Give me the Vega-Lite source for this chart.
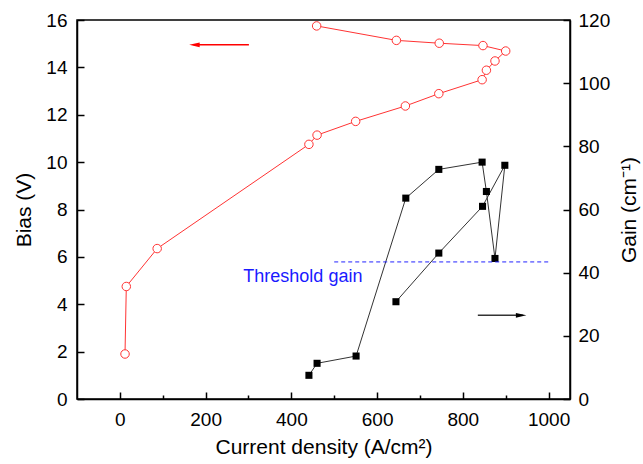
{
  "$schema": "https://vega.github.io/schema/vega-lite/v6.json",
  "width": 493,
  "height": 379,
  "autosize": {"type": "none"},
  "padding": {"left": 77, "top": 20, "right": 73, "bottom": 65},
  "background": "white",
  "config": {
    "view": {"stroke": "black", "strokeWidth": 1.5},
    "font": "Liberation Sans",
    "axis": {
      "domainColor": "black", "domainWidth": 1.5, "tickColor": "black", "tickWidth": 1.5,
      "labelFont": "Liberation Sans", "labelFontSize": 19, "labelColor": "black",
      "titleFont": "Liberation Sans", "titleFontSize": 21, "titleFontWeight": "normal", "titleColor": "black",
      "grid": false, "labelFlush": false, "labelOverlap": false
    }
  },
  "datasets": {
    "bias": [
      {"idx": 1, "J": 12, "V": 1.9},
      {"idx": 2, "J": 15, "V": 4.75},
      {"idx": 3, "J": 87, "V": 6.35},
      {"idx": 4, "J": 441, "V": 10.75},
      {"idx": 5, "J": 460, "V": 11.14},
      {"idx": 6, "J": 550, "V": 11.72},
      {"idx": 7, "J": 666, "V": 12.37},
      {"idx": 8, "J": 744, "V": 12.89},
      {"idx": 9, "J": 845, "V": 13.48},
      {"idx": 10, "J": 855, "V": 13.88},
      {"idx": 11, "J": 875, "V": 14.27},
      {"idx": 12, "J": 900, "V": 14.69},
      {"idx": 13, "J": 847, "V": 14.92},
      {"idx": 14, "J": 745, "V": 15.02},
      {"idx": 15, "J": 645, "V": 15.14},
      {"idx": 16, "J": 459, "V": 15.75}
    ],
    "gain": [
      {"idx": 1, "J": 441, "G": 7.5},
      {"idx": 2, "J": 460, "G": 11.3},
      {"idx": 3, "J": 551, "G": 13.6},
      {"idx": 4, "J": 667, "G": 63.6},
      {"idx": 5, "J": 744, "G": 72.7},
      {"idx": 6, "J": 845, "G": 75.0},
      {"idx": 7, "J": 855, "G": 65.7},
      {"idx": 8, "J": 875, "G": 44.5},
      {"idx": 9, "J": 898, "G": 74.0},
      {"idx": 10, "J": 846, "G": 61.0},
      {"idx": 11, "J": 744, "G": 46.2},
      {"idx": 12, "J": 644, "G": 30.8}
    ],
    "one": [{}]
  },
  "layer": [
    {
      "layer": [
        {
          "data": {"name": "bias"},
          "mark": {"type": "line", "color": "#ff3333", "strokeWidth": 1},
          "encoding": {
            "x": {
              "field": "J", "type": "quantitative",
              "scale": {"domain": [-100, 1050], "nice": false, "zero": false},
              "axis": {
                "title": "Current density (A/cm²)",
                "values": [0, 100, 200, 300, 400, 500, 600, 700, 800, 900, 1000],
                "format": "d",
                "labelExpr": "datum.value % 200 === 0 ? datum.label : ''",
                "tickSize": {"condition": {"test": "datum.value % 200 === 0", "value": -7}, "value": -4},
                "labelPadding": 18,
                "titlePadding": 4
              }
            },
            "y": {
              "field": "V", "type": "quantitative",
              "scale": {"domain": [0, 16], "nice": false},
              "axis": {
                "title": "Bias (V)",
                "orient": "left",
                "values": [0, 1, 2, 3, 4, 5, 6, 7, 8, 9, 10, 11, 12, 13, 14, 15, 16],
                "labelExpr": "datum.value % 2 === 0 ? datum.label : ''",
                "tickSize": {"condition": {"test": "datum.value % 2 === 0", "value": -7}, "value": -4},
                "labelPadding": 17,
                "titlePadding": 11
              }
            },
            "order": {"field": "idx", "type": "quantitative"}
          }
        },
        {
          "data": {"name": "bias"},
          "mark": {"type": "point", "shape": "circle", "filled": false, "fill": "white", "fillOpacity": 1, "stroke": "#ff3333", "size": 72, "strokeWidth": 1, "opacity": 1},
          "encoding": {
            "x": {"field": "J", "type": "quantitative"},
            "y": {"field": "V", "type": "quantitative", "title": "Bias (V)"}
          }
        },
        {
          "data": {"name": "one"},
          "mark": {"type": "rule", "color": "red", "strokeWidth": 1.5},
          "encoding": {
            "x": {"datum": 172},
            "x2": {"datum": 301},
            "y": {"datum": 14.95}
          }
        },
        {
          "data": {"name": "one"},
          "mark": {"type": "point", "shape": "M -1 0 L 1 -0.45 L 1 0.45 Z", "filled": true, "color": "red", "size": 110, "strokeWidth": 0, "opacity": 1},
          "encoding": {
            "x": {"datum": 174},
            "y": {"datum": 14.95}
          }
        }
      ]
    },
    {
      "layer": [
        {
          "data": {"name": "gain"},
          "mark": {"type": "line", "color": "#333333", "strokeWidth": 1},
          "encoding": {
            "x": {"field": "J", "type": "quantitative"},
            "y": {
              "field": "G", "type": "quantitative",
              "scale": {"domain": [0, 120], "nice": false},
              "axis": {
                "title": "Gain (cm⁻¹)",
                "orient": "right",
                "values": [0, 10, 20, 30, 40, 50, 60, 70, 80, 90, 100, 110, 120],
                "labelExpr": "datum.value % 20 === 0 ? datum.label : ''",
                "tickSize": {"condition": {"test": "datum.value % 20 === 0", "value": -7}, "value": -4},
                "labelPadding": 15,
                "titlePadding": 30,
                "titleAngle": -90
              }
            },
            "order": {"field": "idx", "type": "quantitative"}
          }
        },
        {
          "data": {"name": "gain"},
          "mark": {"type": "point", "shape": "square", "filled": true, "color": "black", "size": 50, "opacity": 1},
          "encoding": {
            "x": {"field": "J", "type": "quantitative"},
            "y": {"field": "G", "type": "quantitative", "title": "Gain (cm⁻¹)"}
          }
        },
        {
          "data": {"name": "one"},
          "mark": {"type": "rule", "color": "#2222ff", "strokeWidth": 1, "strokeDash": [4, 3]},
          "encoding": {
            "x": {"datum": 500},
            "x2": {"datum": 1000},
            "y": {"datum": 43.4}
          }
        },
        {
          "data": {"name": "one"},
          "mark": {"type": "text", "text": "Threshold gain", "color": "#1a1aff", "align": "left", "baseline": "middle", "fontSize": 18, "font": "Liberation Sans"},
          "encoding": {
            "x": {"datum": 288},
            "y": {"datum": 38.5}
          }
        },
        {
          "data": {"name": "one"},
          "mark": {"type": "rule", "color": "#333333", "strokeWidth": 1.5},
          "encoding": {
            "x": {"datum": 835},
            "x2": {"datum": 940},
            "y": {"datum": 26.5}
          }
        },
        {
          "data": {"name": "one"},
          "mark": {"type": "point", "shape": "M 1 0 L -1 -0.45 L -1 0.45 Z", "filled": true, "color": "black", "size": 110, "strokeWidth": 0, "opacity": 1},
          "encoding": {
            "x": {"datum": 936},
            "y": {"datum": 26.5}
          }
        }
      ]
    }
  ],
  "resolve": {"scale": {"y": "independent"}, "axis": {"y": "independent"}}
}
